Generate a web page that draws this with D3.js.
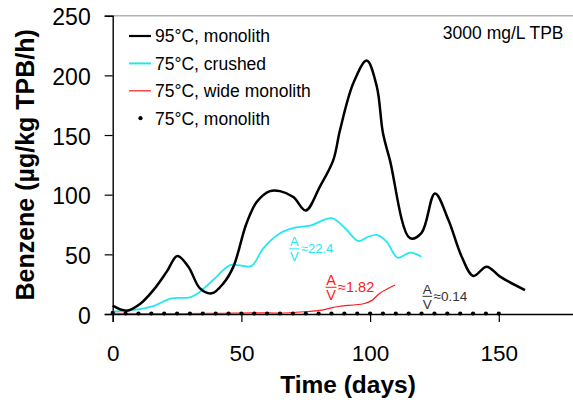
<!DOCTYPE html>
<html>
<head>
<meta charset="utf-8">
<script src="https://cdn.jsdelivr.net/npm/d3@7/dist/d3.min.js"></script>
<style>
  html, body { margin: 0; padding: 0; background: #fff; }
  svg { display: block; font-family: "Liberation Sans", Arial, sans-serif; }
</style>
</head>
<body>
<svg id="chart" width="573" height="400"></svg>
<script>
// Benzene generation rate vs. time, 3000 mg/L TPB
const seriesNames = ["95°C, monolith", "75°C, crushed", "75°C, wide monolith", "75°C, monolith"];

// [day, rate µg/kg TPB/h]
const mono95 = [
  [0, 7], [5.4, 2.8], [10.6, 8.4], [15.8, 20], [21, 35.5], [25.1, 48.7], [29.4, 39.7],
  [33.9, 21.5], [38.5, 17.3], [43, 25.7], [46.9, 39.7], [52, 76], [56, 94], [61.1, 103],
  [65, 103], [70.2, 98], [75, 86.7], [80.5, 106.8], [85.7, 129], [88.3, 154], [93.5, 193.5],
  [98.7, 212.5], [102.6, 190.7], [105, 151.6], [107.7, 129], [115.5, 63.5], [120, 68],
  [125.2, 101], [130.4, 79], [135.6, 48], [140.1, 31.9], [145.3, 39.7], [150.5, 31.3], [160.2, 20]
];
const crushed75 = [
  [0, 2], [8, 3.4], [15.1, 6.2], [22.9, 13.1], [30, 14], [33.9, 18.7], [40.4, 31.3],
  [45.6, 41], [50, 40.5], [54, 40.3], [58.5, 55], [65, 67.7], [70.8, 72.4], [76.7, 74],
  [85.1, 80.3], [90.3, 71.9], [95.4, 61.2], [99, 64.5], [102.6, 66.3], [106.4, 60.7],
  [110.7, 47.2], [115.5, 51.4], [120, 48]
];
const wide75 = [
  [0, 0.5], [20, 0.4], [40, 0.5], [55, 1], [65, 0.8], [75, 2], [80.5, 3], [85.7, 5.5],
  [88.3, 6.5], [97.4, 8.6], [100.6, 11.2], [103.8, 17.4], [109.7, 24.3]
];
const monoDays = [0, 5, 10, 15, 20, 25, 30, 35, 40, 45, 50, 55, 60, 65, 70, 75, 80, 85, 90, 95,
  100, 105, 110, 115, 120, 125, 130, 135, 140, 145, 150];
const monoRates = [1, 0.4, 0.4, 0.4, 0.4, 0.4, 0.4, 0.4, 0.4, 0.4, 0.4, 0.4, 0.4, 0.4, 0.4, 0.4,
  0.4, 0.4, 0.4, 0.4, 0.4, 0.4, 0.4, 0.4, 0.4, 0.4, 0.4, 0.4, 0.4, 0.4, 0.4];

const xTicks = [0, 50, 100, 150];
const yTicks = [0, 50, 100, 150, 200, 250];

// A/V ratio notes, placed at [day, rate] of the fraction bar
const avNotes = [
  { value: "≈22.4", day: 68.6, rate: 54.6, color: "#22e8f2", size: 13, w: 10 },
  { value: "≈1.82", day: 82.7, rate: 22.4, color: "#ff1a1a", size: 14.5, w: 11 },
  { value: "≈0.14", day: 120.4, rate: 14.8, color: "#333333", size: 13.5, w: 9.5 }
];

const colors = { mono95: "#000000", crushed: "#22e8f2", wide: "#ff1a1a", dots: "#000000" };

const svg = d3.select("#chart");
const x = d3.scaleLinear().domain([0, 180]).range([112.7, 576]);
const y = d3.scaleLinear().domain([0, 250]).range([314, 15.7]);

// top frame line
svg.append("line")
  .attr("x1", x(0)).attr("x2", x(180))
  .attr("y1", y(250)).attr("y2", y(250))
  .attr("stroke", "#b3b3b3").attr("stroke-width", 1.5);

// axes
const yAxis = svg.append("g")
  .attr("transform", `translate(${x(0)},0)`)
  .call(d3.axisLeft(y).tickValues(yTicks).tickSize(8).tickPadding(14).tickFormat(d3.format("d")));
yAxis.select(".domain").attr("stroke", "#000").attr("stroke-width", 1.4);
yAxis.selectAll(".tick line").attr("stroke", "#000").attr("stroke-width", 1.2);
yAxis.selectAll(".tick text")
  .attr("font-size", 23).attr("fill", "#000")
  .attr("font-family", "Liberation Sans, Arial, sans-serif")
  .attr("dy", null).attr("y", 9);

const xAxis = svg.append("g")
  .attr("transform", `translate(0,${y(0)})`)
  .call(d3.axisBottom(x).tickValues(xTicks).tickSize(8).tickPadding(23).tickFormat(d3.format("d")));
xAxis.select(".domain").attr("stroke", "#000").attr("stroke-width", 1.5);
xAxis.selectAll(".tick line").attr("stroke", "#000").attr("stroke-width", 1.2);
xAxis.selectAll(".tick text")
  .attr("font-size", 22.5).attr("fill", "#000")
  .attr("font-family", "Liberation Sans, Arial, sans-serif")
  .attr("dy", null).attr("y", 47);

// axis titles
svg.append("text")
  .attr("transform", `translate(33.5,${(y(0) + y(250)) / 2}) rotate(-90)`)
  .attr("text-anchor", "middle")
  .attr("font-size", 25).attr("font-weight", "bold")
  .text("Benzene (µg/kg TPB/h)");
svg.append("text")
  .attr("x", 348).attr("y", 393)
  .attr("text-anchor", "middle")
  .attr("font-size", 24.5).attr("font-weight", "bold")
  .text("Time (days)");

// curves
const line = d3.line()
  .x(d => x(d[0])).y(d => y(d[1]))
  .curve(d3.curveCatmullRom.alpha(0.5));

svg.append("path").datum(wide75)
  .attr("d", line).attr("fill", "none")
  .attr("stroke", colors.wide).attr("stroke-width", 1.2);
svg.append("path").datum(crushed75)
  .attr("d", line).attr("fill", "none")
  .attr("stroke", colors.crushed).attr("stroke-width", 1.8);
svg.append("path").datum(mono95)
  .attr("d", line).attr("fill", "none")
  .attr("stroke", colors.mono95).attr("stroke-width", 2.5);

svg.append("g").selectAll("circle")
  .data(monoDays.map((d, i) => [d, monoRates[i]]))
  .join("circle")
  .attr("cx", d => x(d[0])).attr("cy", d => y(d[1]))
  .attr("r", 2.1).attr("fill", colors.dots);

// A/V annotations: stacked fraction followed by the ratio value, one text element each
avNotes.forEach(n => {
  const g = svg.append("g")
    .attr("transform", `translate(${x(n.day)},${y(n.rate)})`)
    .attr("fill", n.color)
    .attr("font-size", n.size);
  const cap = n.size * 0.716;
  const t = g.append("text");
  t.append("tspan").attr("x", n.w / 2).attr("y", -2.4).attr("text-anchor", "middle").text("A");
  t.append("tspan").attr("x", n.w / 2).attr("y", cap + 2.8).attr("text-anchor", "middle").text("V");
  t.append("tspan").attr("x", n.w + 1.5).attr("y", cap / 2 - 0.5).attr("text-anchor", "start").text(n.value);
  g.append("line").attr("x1", 0).attr("x2", n.w).attr("y1", 0).attr("y2", 0)
    .attr("stroke", n.color).attr("stroke-width", 1);
});

// legend
const legendColors = [colors.mono95, colors.crushed, colors.wide, colors.dots];
const legendWidths = [2.2, 2, 1.2, 0];
const legend = svg.append("g");
seriesNames.forEach((name, i) => {
  const ly = 36 + 27.4 * i;
  if (i < 3) {
    legend.append("line")
      .attr("x1", 129).attr("x2", 151).attr("y1", ly).attr("y2", ly)
      .attr("stroke", legendColors[i]).attr("stroke-width", legendWidths[i]);
  } else {
    legend.append("circle").attr("cx", 140.5).attr("cy", ly).attr("r", 2.1).attr("fill", legendColors[i]);
  }
  legend.append("text")
    .attr("x", 155).attr("y", ly + 6.3)
    .attr("font-size", 17.5).attr("fill", "#000")
    .text(name);
});

svg.append("text")
  .attr("x", 563.5).attr("y", 39.3)
  .attr("text-anchor", "end")
  .attr("font-size", 17.5).attr("fill", "#000")
  .text("3000 mg/L TPB");
</script>
</body>
</html>
